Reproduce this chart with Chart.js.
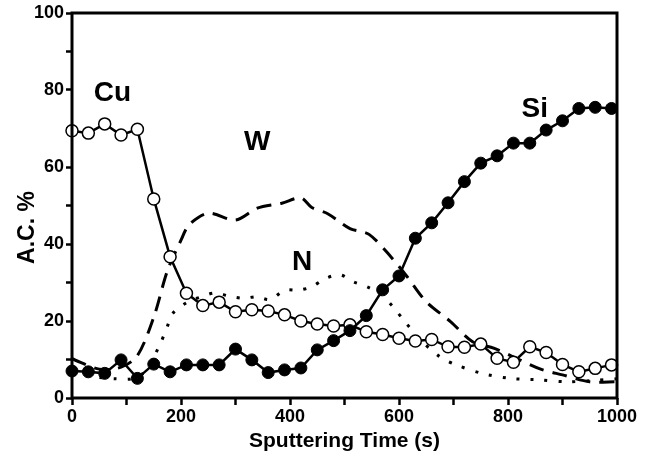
<!DOCTYPE html>
<html>
<head>
<meta charset="utf-8">
<script src="https://cdn.jsdelivr.net/npm/chart.js@4.4.1/dist/chart.umd.min.js"></script>
<style>
html, body { margin: 0; padding: 0; background: #fff; }
#wrap { width: 646px; height: 458px; position: relative; }
</style>
</head>
<body>
<div id="wrap"><canvas id="depthChart"></canvas></div>
<script>
// Depth profile data
const sputterTimes = [0, 30, 60, 90, 120, 150, 180, 210, 240, 270, 300, 330, 360, 390, 420, 450, 480,
    510, 540, 570, 600, 630, 660, 690, 720, 750, 780, 810, 840, 870, 900, 930, 960, 990];
const cuValues = [69.4, 68.8, 71.2, 68.3, 69.8, 51.7, 36.7, 27.2, 24.0, 24.9, 22.4, 22.9, 22.6, 21.6, 20.0, 19.2, 18.7,
    19.0, 17.2, 16.5, 15.5, 14.8, 15.2, 13.3, 13.2, 14.0, 10.3, 9.3, 13.3, 11.8, 8.7, 6.8, 7.7, 8.6];
const siValues = [7.0, 6.8, 6.4, 9.9, 5.1, 8.8, 6.8, 8.6, 8.6, 8.6, 12.7, 9.9, 6.6, 7.3, 7.8, 12.5, 14.9,
    17.5, 21.4, 28.1, 31.7, 41.5, 45.5, 50.7, 56.2, 61.0, 62.9, 66.2, 66.2, 69.6, 72.0, 75.2, 75.5, 75.2];

const wTimes = [0, 50, 90, 120, 150, 175, 200, 215, 250, 300, 340, 385, 420, 440, 470, 510, 545, 585,
    615, 650, 695, 735, 775, 820, 860, 900, 950, 1000];
const wValues = [10.2, 7.5, 8.0, 11.0, 21.0, 33.0, 41.0, 45.0, 48.0, 46.2, 49.3, 50.6, 52.0, 49.5, 47.8, 44.0, 42.5, 36.7,
    31.5, 25.0, 19.8, 14.6, 12.9, 10.0, 7.5, 6.0, 4.2, 4.2];

const nTimes = [0, 40, 80, 110, 135, 161, 174, 185, 213, 238, 262, 287, 314, 339, 363, 391, 415, 440, 464,
    492, 516, 541, 568, 590, 611, 640, 675, 705, 752, 804, 859, 908, 950, 1000];
const nValues = [6.5, 5.5, 5.0, 5.0, 7.0, 13.8, 18.2, 22.0, 25.0, 26.3, 27.3, 26.5, 25.9, 26.3, 25.6, 28.0, 28.0, 28.9, 31.0,
    32.0, 30.2, 28.9, 26.8, 23.5, 19.8, 15.0, 10.7, 8.6, 6.4, 5.1, 4.7, 4.2, 4.5, 5.0];

const xTickLabels = [0, 200, 400, 600, 800, 1000];
const yTickLabels = [0, 20, 40, 60, 80, 100];

// element labels inside the plot (data coordinates)
const elementNames = ['Cu', 'W', 'N', 'Si'];
const elementAt = [[74, 79.2], [340, 66.5], [422, 35.3], [849, 75.1]];

const toPoints = (xs, ys) => xs.map((x, i) => ({ x: x, y: ys[i] }));

const FONT = '"Liberation Sans", Arial, sans-serif';

const framePlugin = {
    id: 'frame',
    afterDatasetsDraw(chart) {
        const { ctx, chartArea: a, scales } = chart;
        ctx.save();
        ctx.strokeStyle = '#000';
        ctx.lineWidth = 3;
        ctx.strokeRect(a.left, a.top, a.right - a.left, a.bottom - a.top);

        ctx.fillStyle = '#000';
        ctx.font = 'bold 28px ' + FONT;
        ctx.textAlign = 'center';
        ctx.textBaseline = 'middle';
        elementNames.forEach((name, i) => {
            ctx.fillText(name, scales.x.getPixelForValue(elementAt[i][0]), scales.y.getPixelForValue(elementAt[i][1]));
        });

        // y axis title
        ctx.font = 'bold 23px ' + FONT;
        ctx.translate(28, (a.top + a.bottom) / 2 + 22);
        ctx.rotate(-Math.PI / 2);
        ctx.fillText('A.C. %', 0, 0);
        ctx.restore();
    }
};

const ctx = document.getElementById('depthChart').getContext('2d');

new Chart(ctx, {
    type: 'line',
    data: {
        datasets: [{
            label: 'Si',
            data: toPoints(sputterTimes, siValues),
            borderColor: '#000',
            borderWidth: 2.5,
            pointRadius: 6,
            pointBackgroundColor: '#000',
            pointBorderColor: '#000',
            pointBorderWidth: 1,
            tension: 0,
            clip: false,
            order: 1
        }, {
            label: 'Cu',
            data: toPoints(sputterTimes, cuValues),
            borderColor: '#000',
            borderWidth: 2.5,
            pointRadius: 6,
            pointBackgroundColor: '#fff',
            pointBorderColor: '#000',
            pointBorderWidth: 1.5,
            tension: 0,
            clip: false,
            order: 2
        }, {
            label: 'W',
            data: toPoints(wTimes, wValues),
            borderColor: '#000',
            borderWidth: 3,
            borderDash: [15, 9],
            pointRadius: 0,
            tension: 0.3,
            clip: false,
            order: 3
        }, {
            label: 'N',
            data: toPoints(nTimes, nValues),
            borderColor: '#000',
            borderWidth: 3,
            borderDash: [3, 11],
            pointRadius: 0,
            tension: 0.3,
            clip: false,
            order: 4
        }]
    },
    options: {
        responsive: true,
        maintainAspectRatio: false,
        animation: false,
        layout: {
            padding: { left: 0, top: 13, right: 29, bottom: 0 }
        },
        plugins: {
            legend: { display: false },
            tooltip: { enabled: false }
        },
        scales: {
            x: {
                type: 'linear',
                min: 0,
                max: 1000,
                afterFit: function(scale) { scale.height = 60; },
                border: { display: false },
                grid: {
                    drawOnChartArea: false,
                    color: '#000',
                    tickColor: '#000',
                    tickLength: 7,
                    tickWidth: 2.5
                },
                ticks: {
                    stepSize: 100,
                    autoSkip: false,
                    maxRotation: 0,
                    padding: 1,
                    color: '#000',
                    font: { family: FONT, size: 18, weight: 'bold' },
                    callback: function(value) {
                        return xTickLabels.includes(value) ? value : '';
                    }
                },
                title: {
                    display: true,
                    text: 'Sputtering Time (s)',
                    color: '#000',
                    padding: { top: 0, bottom: 4 },
                    font: { family: FONT, size: 21, weight: 'bold' }
                }
            },
            y: {
                min: 0,
                max: 100,
                afterFit: function(scale) { scale.width = 72; },
                border: { display: false },
                grid: {
                    drawOnChartArea: false,
                    color: '#000',
                    tickColor: '#000',
                    tickLength: 6,
                    tickWidth: 2.5
                },
                ticks: {
                    stepSize: 10,
                    autoSkip: false,
                    padding: 2,
                    color: '#000',
                    font: { family: FONT, size: 18, weight: 'bold' },
                    callback: function(value) {
                        return yTickLabels.includes(value) ? value : '';
                    }
                }
            }
        }
    },
    plugins: [framePlugin]
});
</script>
</body>
</html>
